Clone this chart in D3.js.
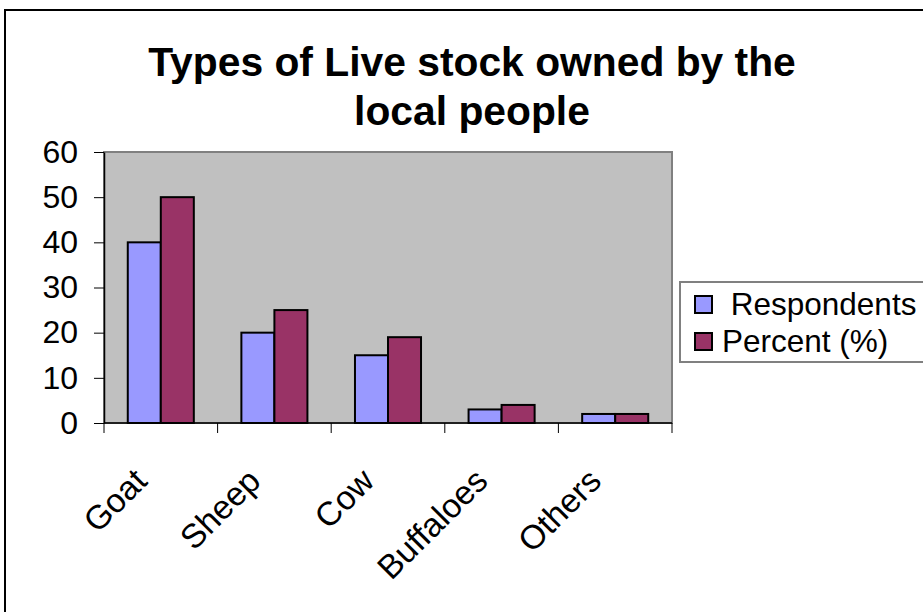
<!DOCTYPE html>
<html>
<head>
<meta charset="utf-8">
<script src="https://cdn.jsdelivr.net/npm/d3@7/dist/d3.min.js"></script>
<style>
  html, body { margin: 0; padding: 0; background: #fff; }
  svg { display: block; font-family: "Liberation Sans", Arial, sans-serif; }
</style>
</head>
<body>
<svg id="chart" width="923" height="612"></svg>
<script>
const categories = ["Goat", "Sheep", "Cow", "Buffaloes", "Others"];
const seriesNames = ["Respondents", "Percent (%)"];
const legendLabels = [" Respondents", "Percent (%)"];
const respondents = [40, 20, 15, 3, 2];
const percent = [50, 25, 19, 4, 2];
const yTicks = [0, 10, 20, 30, 40, 50, 60];
const titleLines = ["Types of Live stock owned by the", "local people"];
const colors = ["#9999FF", "#993366"];

const svg = d3.select("#chart");

// outer frame
svg.append("rect").attr("x", 5).attr("y", 10).attr("width", 1000).attr("height", 700)
  .attr("fill", "#fff").attr("stroke", "#000").attr("stroke-width", 2);

const plot = { left: 104, right: 672, top: 152, bottom: 423 };

const x0 = d3.scaleBand().domain(categories).range([plot.left, plot.right]).paddingInner(0).paddingOuter(0);
const x1 = d3.scaleBand().domain(seriesNames).range([0, x0.bandwidth()]).paddingInner(0).paddingOuter(0.72);
const y = d3.scaleLinear().domain([0, 60]).range([plot.bottom, plot.top]);

// plot area
svg.append("rect").attr("x", plot.left).attr("y", plot.top)
  .attr("width", plot.right - plot.left).attr("height", plot.bottom - plot.top)
  .attr("fill", "#C0C0C0").attr("stroke", "#808080").attr("stroke-width", 2);

// bars
const data = categories.map((c, i) => ({ cat: c, vals: [respondents[i], percent[i]] }));
const groups = svg.append("g").selectAll("g").data(data).join("g")
  .attr("transform", d => `translate(${x0(d.cat)},0)`);
groups.selectAll("rect").data(d => d.vals.map((v, j) => ({ s: seriesNames[j], v, j })))
  .join("rect")
  .attr("x", d => x1(d.s))
  .attr("width", x1.bandwidth())
  .attr("y", d => y(d.v))
  .attr("height", d => y(0) - y(d.v))
  .attr("fill", d => colors[d.j])
  .attr("stroke", "#000").attr("stroke-width", 2);

// y axis
const yAxis = svg.append("g").attr("transform", `translate(${plot.left},0)`)
  .call(d3.axisLeft(y).tickValues(yTicks).tickSize(10).tickPadding(16).tickSizeOuter(0));
yAxis.select(".domain").attr("stroke", "#000").attr("stroke-width", 1.5);
yAxis.selectAll(".tick line").attr("stroke", "#000");
yAxis.selectAll(".tick text").attr("font-size", 32).attr("fill", "#000")
  .attr("font-family", "'Liberation Sans', Arial, sans-serif");

// x axis line and boundary ticks
const boundaries = categories.map(c => x0(c)).concat([x0(categories[categories.length - 1]) + x0.bandwidth()]);
svg.append("line").attr("x1", plot.left).attr("x2", plot.right)
  .attr("y1", plot.bottom).attr("y2", plot.bottom).attr("stroke", "#000").attr("stroke-width", 1.5);
svg.append("g").selectAll("line").data(boundaries).join("line")
  .attr("x1", d => d).attr("x2", d => d)
  .attr("y1", plot.bottom).attr("y2", plot.bottom + 10)
  .attr("stroke", "#000").attr("stroke-width", 1);

// category labels rotated
svg.append("g").selectAll("text").data(categories).join("text")
  .attr("transform", d => `translate(${x0(d) + x0.bandwidth() / 2 - 12},${plot.bottom + 60}) rotate(-45)`)
  .attr("text-anchor", "end")
  .attr("font-size", 33.5)
  .attr("fill", "#000")
  .text(d => d);

// title
svg.append("g").selectAll("text").data(titleLines).join("text")
  .attr("x", 472)
  .attr("y", (d, i) => 76 + i * 49)
  .attr("text-anchor", "middle")
  .attr("font-size", 40.8)
  .attr("font-weight", "bold")
  .attr("fill", "#000")
  .text(d => d);

// legend
const leg = svg.append("g");
leg.append("rect").attr("x", 680).attr("y", 282).attr("width", 260).attr("height", 80)
  .attr("fill", "#fff").attr("stroke", "#808080").attr("stroke-width", 2);
const items = leg.selectAll("g").data(legendLabels).join("g")
  .attr("transform", (d, i) => `translate(0,${296 + i * 37})`);
items.append("rect").attr("x", 695).attr("y", 0).attr("width", 17).attr("height", 17)
  .attr("fill", (d, i) => colors[i]).attr("stroke", "#000").attr("stroke-width", 2);
items.append("text").attr("x", 722).attr("y", 19)
  .attr("font-size", 31.5).attr("fill", "#000")
  .style("white-space", "pre")
  .text(d => d);
</script>
</body>
</html>
